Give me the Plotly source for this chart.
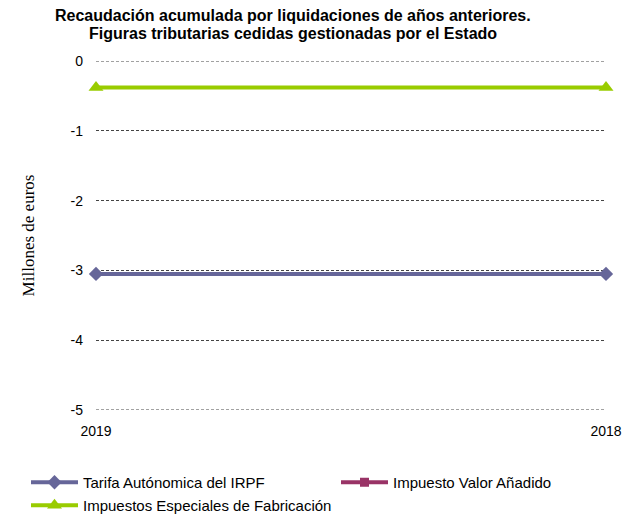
import plotly.graph_objects as go

categories = ["2019", "2018"]
irpf = [-3.05, -3.05]
iva = [None, None]
iiee = [-0.38, -0.38]
series_names = ["Tarifa Autónomica del IRPF", "Impuesto Valor Añadido",
                "Impuestos Especiales de Fabricación"]
y_ticks = [0, -1, -2, -3, -4, -5]
title_lines = ["Recaudación acumulada por liquidaciones de años anteriores.",
               "Figuras tributarias cedidas gestionadas por el Estado"]

OFF = 8  # default page body margin
W, H = 630 - OFF, 517 - OFF
L, R, T, B = 96 - OFF, 24, 61 - OFF, 107
PW, PH = W - L - R, H - T - B


def px_x(p):
    return (p - OFF - L) / PW


def px_y(p):
    return 1 - (p - OFF - T) / PH


fig = go.Figure()
fig.add_trace(go.Scatter(x=[0, 1], y=irpf, name=series_names[0], mode="lines+markers",
                         line=dict(color="#666699", width=4),
                         marker=dict(symbol="diamond", size=11, color="#666699"),
                         cliponaxis=False, legend="legend"))
fig.add_trace(go.Scatter(x=[0, 1], y=iva, name=series_names[1], mode="lines+markers",
                         line=dict(color="#993366", width=4),
                         marker=dict(symbol="square", size=9, color="#993366"),
                         cliponaxis=False, legend="legend2"))
fig.add_trace(go.Scatter(x=[0, 1], y=iiee, name=series_names[2], mode="lines+markers",
                         line=dict(color="#99CC00", width=4),
                         marker=dict(symbol="triangle-up", size=13, color="#99CC00"),
                         cliponaxis=False, legend="legend3"))

for yy in (y_ticks[0], y_ticks[-1]):
    fig.add_shape(type="line", xref="paper", yref="y", x0=0, x1=1, y0=yy, y1=yy,
                  line=dict(color="#444444", width=1, dash="3px,2px"), layer="below")

for txt, py in zip(title_lines, (15, 34)):
    fig.add_annotation(text="<b>" + txt + "</b>", xref="paper", yref="paper",
                       x=px_x(293), xanchor="center", y=px_y(py), yanchor="middle",
                       showarrow=False,
                       font=dict(size=16, family="Liberation Sans, Arial", color="black"))

leg_common = dict(orientation="h", xanchor="left", yanchor="top",
                  font=dict(size=15), itemwidth=47, bgcolor="rgba(0,0,0,0)")

fig.update_layout(
    width=W, height=H,
    margin=dict(l=L, r=R, t=T, b=B, autoexpand=False),
    paper_bgcolor="white", plot_bgcolor="white",
    font=dict(family="Liberation Sans, Arial", size=14, color="black"),
    xaxis=dict(range=[0, 1], tickvals=[0, 1], ticktext=categories,
               showgrid=False, zeroline=False, showline=False, ticks="",
               ticklabelstandoff=11, tickfont=dict(size=14)),
    yaxis=dict(range=[-5, 0], tickvals=y_ticks, ticktext=[str(v) for v in y_ticks],
               showgrid=True, gridcolor="#444444", griddash="3px,2px", gridwidth=1,
               zeroline=False, showline=False, ticks="", ticklabelstandoff=12,
               tickfont=dict(size=14),
               title=dict(text="Millones de euros", standoff=31,
                          font=dict(family="Liberation Serif, Times New Roman", size=17))),
    legend=dict(x=px_x(26), y=px_y(466), **leg_common),
    legend2=dict(x=px_x(336), y=px_y(466), **leg_common),
    legend3=dict(x=px_x(26), y=px_y(489), **leg_common),
    showlegend=True,
)

fig.write_html("out.html")
